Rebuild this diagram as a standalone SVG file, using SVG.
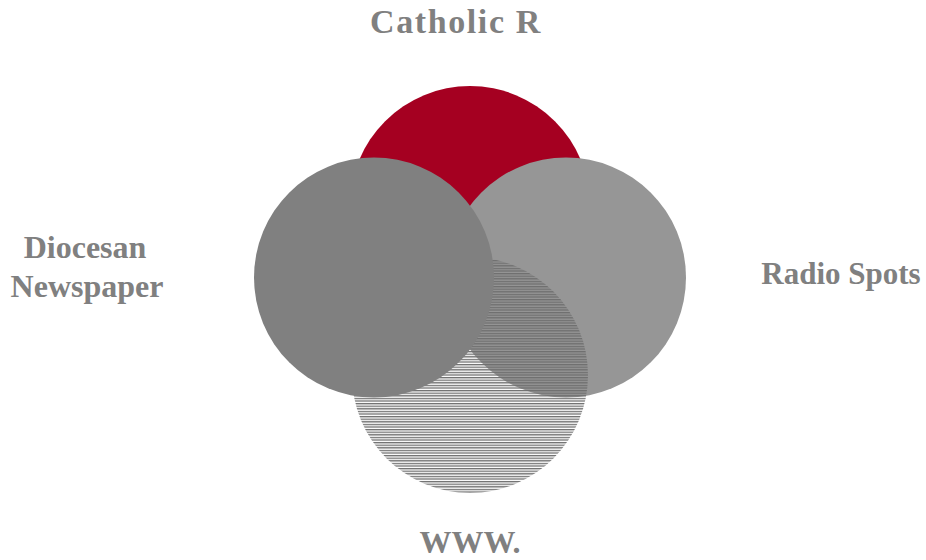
<svg xmlns="http://www.w3.org/2000/svg" width="926" height="560" viewBox="0 0 926 560">
  <defs>
    <pattern id="hatch" patternUnits="userSpaceOnUse" x="0" y="0" width="10" height="2.6">
      <rect x="0" y="0" width="10" height="1.3" fill="#6e6e6e"/>
    </pattern>
    <style>
      .lbl { font-family: "Liberation Serif", "Times New Roman", serif; font-weight: bold; fill: #808080; }
    </style>
  </defs>
  <rect width="926" height="560" fill="#ffffff"/>
  <g id="node-catholic">
    <circle cx="470" cy="206" r="120" fill="#a50021"/>
  </g>
  <g id="node-radio">
    <circle cx="566" cy="277.5" r="120" fill="#969696"/>
  </g>
  <g id="node-www">
    <circle cx="470" cy="375" r="118" fill="url(#hatch)"/>
  </g>
  <g id="node-diocesan">
    <circle cx="374" cy="277.5" r="120" fill="#808080"/>
  </g>
  <g id="connectors"/>
  <g id="labels">
    <text class="lbl" x="370" y="33" font-size="34" letter-spacing="1.6">Catholic R</text>
    <text class="lbl" x="85" y="258" font-size="32" text-anchor="middle">Diocesan</text>
    <text class="lbl" x="87" y="297" font-size="32" text-anchor="middle">Newspaper</text>
    <text class="lbl" x="841" y="284" font-size="31" text-anchor="middle">Radio Spots</text>
    <text class="lbl" x="470" y="552.5" font-size="32" text-anchor="middle">WWW.</text>
  </g>
</svg>
